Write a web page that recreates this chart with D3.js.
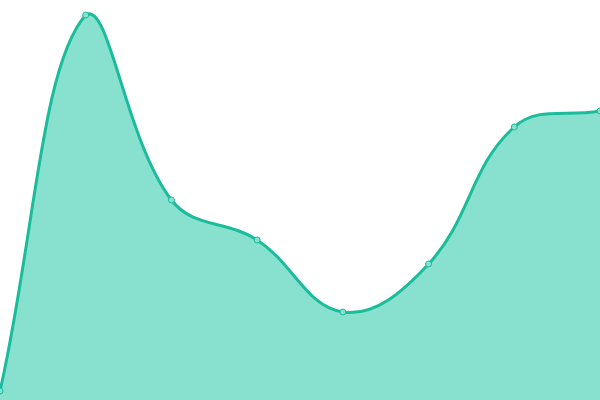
<!DOCTYPE html>
<html><head><meta charset="utf-8">
<script src="https://cdn.jsdelivr.net/npm/d3@7"></script>
<style>html,body{margin:0;padding:0;background:#fff;}svg{display:block;}</style>
</head><body>
<svg id="chart" width="600" height="400"></svg>
<script>
const categories = [0, 1, 2, 3, 4, 5, 6, 7];
const values = [9, 385, 200, 160, 88, 136, 273, 289];
const yDomain = [0, 400];

const W = 600, H = 400, T = 0.4;
const svg = d3.select("#chart");
const x = d3.scaleLinear().domain([0, categories.length - 1]).range([0, W]);
const y = d3.scaleLinear().domain(yDomain).range([H, 0]);
const pts = categories.map((c, i) => ({x: x(c), y: y(values[i])}));

// spline control points (distance-weighted, tension T), capped to the plot area
const cap = (v, lo, hi) => Math.max(lo, Math.min(hi, v));
const ctrl = pts.map((m, i) => {
  const f = pts[i - 1] || m, a = pts[i + 1] || m;
  const d01 = Math.hypot(m.x - f.x, m.y - f.y), d12 = Math.hypot(a.x - m.x, a.y - m.y);
  const s = d01 + d12 || 1;
  const fa = T * d01 / s, fb = T * d12 / s;
  return {
    px: cap(m.x - fa * (a.x - f.x), 0, W), py: cap(m.y - fa * (a.y - f.y), 0, H),
    nx: cap(m.x + fb * (a.x - f.x), 0, W), ny: cap(m.y + fb * (a.y - f.y), 0, H)
  };
});
function trace(p) {
  p.moveTo(pts[0].x, pts[0].y);
  for (let i = 1; i < pts.length; i++) {
    p.bezierCurveTo(ctrl[i-1].nx, ctrl[i-1].ny, ctrl[i].px, ctrl[i].py, pts[i].x, pts[i].y);
  }
  return p;
}
const lp = trace(d3.path());
const ap = trace(d3.path());
ap.lineTo(pts[pts.length - 1].x, y(0));
ap.lineTo(pts[0].x, y(0));
ap.closePath();

svg.append("path").attr("d", ap.toString()).attr("fill", "#88e0cf");
svg.append("path").attr("d", lp.toString()).attr("fill", "none")
  .attr("stroke", "#1abc9c").attr("stroke-width", 3);
svg.selectAll("circle").data(pts).join("circle")
  .attr("cx", d => d.x).attr("cy", d => d.y).attr("r", 3)
  .attr("fill", "#88e0cf").attr("stroke", "#1abc9c").attr("stroke-width", 1);
</script>
</body></html>
